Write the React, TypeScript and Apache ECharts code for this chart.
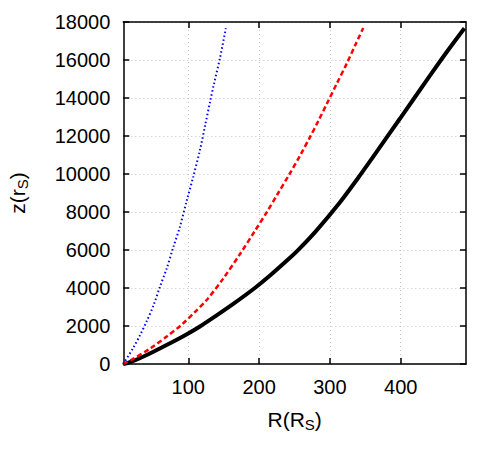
import React, { useEffect, useRef } from "react";
import * as echarts from "echarts";

// Jet height z (in r_S) against cylindrical radius R (in R_S) for three runs
const blueR = [8, 22, 32, 41, 51, 60, 69.5, 79, 88, 98, 107, 116.5, 124, 131, 136, 145, 153];
const blueZ = [0, 830, 1530, 2230, 3100, 4070, 5030, 6170, 7200, 8630, 9860, 11260, 12600, 13850, 14700, 16150, 17670];

const redR = [8, 22, 46, 70, 91, 110, 126, 149, 172, 194, 211, 227, 243, 258, 272, 284, 296, 310, 324, 336, 347];
const redZ = [0, 270, 810, 1460, 2080, 2760, 3370, 4480, 5730, 7000, 8000, 9000, 10000, 10980, 11950, 12820, 13720, 14780, 15830, 16800, 17680];

const blackR = [8, 14, 25, 36, 50, 70, 98, 117, 140, 163, 194, 215, 244, 255, 280, 314, 340, 361, 399, 441, 465, 490];
const blackZ = [0, 50, 200, 380, 630, 1010, 1570, 1990, 2560, 3150, 4000, 4640, 5600, 5990, 6980, 8500, 9800, 10900, 12920, 15160, 16420, 17670];

const xTicks = [100, 200, 300, 400];
const xMin = 8.2;
const xMax = 492.2;
const yMin = 0;
const yMax = 18000;
const yStep = 2000;

const FONT = "'Liberation Sans', Arial, Helvetica, sans-serif";

const pairs = (xs: number[], ys: number[]) => xs.map((x, i) => [x, ys[i]]);

export default function App() {
  const ref = useRef<HTMLDivElement>(null);

  useEffect(() => {
    document.body.style.margin = "0";
    if (!ref.current) return;
    const chart = echarts.init(ref.current, null, { renderer: "svg" });

    const axisLine = { show: true, onZero: false, lineStyle: { color: "#000", width: 1.5 } };
    const tickStyle = { color: "#000", width: 1.5 };
    const grid = { lineStyle: { color: "#c4c4c4", width: 1, type: [1, 3] as number[] } };
    const nameRich = {
      a: { fontSize: 21, fontFamily: FONT, color: "#000", lineHeight: 26 },
      s: { fontSize: 15, fontFamily: FONT, color: "#000", lineHeight: 14, verticalAlign: "bottom" },
    };

    chart.setOption({
      animation: false,
      backgroundColor: "#fff",
      grid: { left: 123.3, right: 17, top: 22, bottom: 86, containLabel: false, outerBoundsMode: "none" },
      xAxis: [
        {
          type: "value",
          position: "bottom",
          min: xMin,
          max: xMax,
          axisLine,
          axisTick: { show: true, inside: true, length: 6, customValues: xTicks, lineStyle: tickStyle },
          axisLabel: { customValues: xTicks, fontSize: 20, fontFamily: FONT, color: "#000", margin: 13 },
          splitLine: { show: true, ...grid },
          name: "{a|R(R}{s|S}{a|)}",
          nameLocation: "middle",
          nameGap: 42,
          nameTextStyle: { rich: nameRich },
        },
        {
          type: "value",
          position: "top",
          min: xMin,
          max: xMax,
          axisLine,
          axisTick: { show: true, inside: true, length: 6, customValues: xTicks, lineStyle: tickStyle },
          axisLabel: { show: false, customValues: xTicks },
          splitLine: { show: false },
        },
      ],
      yAxis: [
        {
          type: "value",
          position: "left",
          min: yMin,
          max: yMax,
          interval: yStep,
          axisLine,
          axisTick: { show: true, inside: true, length: 6, lineStyle: tickStyle },
          axisLabel: {
            fontSize: 20,
            fontFamily: FONT,
            color: "#000",
            margin: 13,
            formatter: (v: number) => String(v),
          },
          splitLine: { show: true, ...grid },
          name: "{a|z(r}{s|S}{a|)}",
          nameLocation: "middle",
          nameGap: 93,
          nameRotate: 90,
          nameTextStyle: { rich: nameRich },
        },
        {
          type: "value",
          position: "right",
          min: yMin,
          max: yMax,
          interval: yStep,
          axisLine,
          axisTick: { show: true, inside: true, length: 6, lineStyle: tickStyle },
          axisLabel: { show: false },
          splitLine: { show: false },
        },
      ],
      series: [
        {
          type: "line",
          data: pairs(blackR, blackZ),
          symbol: "none",
          smooth: 0.3,
          lineStyle: { color: "#000", width: 4 },
          z: 3,
        },
        {
          type: "line",
          data: pairs(redR, redZ),
          symbol: "none",
          smooth: 0.3,
          lineStyle: { color: "#ff0000", width: 2.5, type: [5, 3] },
          z: 4,
        },
        {
          type: "line",
          data: pairs(blueR, blueZ),
          symbol: "none",
          smooth: 0.3,
          lineStyle: { color: "#0000ff", width: 2, type: [1.5, 2.5] },
          z: 5,
        },
      ],
    });

    return () => chart.dispose();
  }, []);

  return <div ref={ref} style={{ width: 483, height: 450 }} />;
}
